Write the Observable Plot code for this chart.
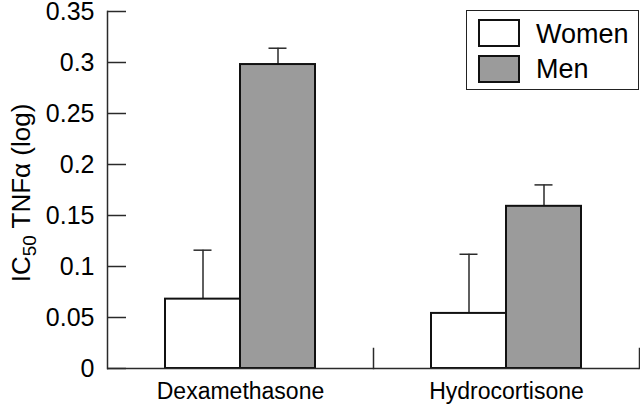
<!DOCTYPE html>
<html><head><meta charset="utf-8">
<script src="https://cdn.jsdelivr.net/npm/d3@7"></script>
<script src="https://cdn.jsdelivr.net/npm/@observablehq/plot@0.6"></script>
<style>
html,body{margin:0;padding:0;background:#fff;}
#chart{position:relative;width:640px;height:404px;font-family:"Liberation Sans",Arial,sans-serif;}
#legend{position:absolute;left:466px;top:10px;width:173px;height:80px;border:1.5px solid #222;box-sizing:border-box;background:#fff;}
.sw{position:absolute;left:11px;width:42px;height:28px;border:2px solid #111;box-sizing:border-box;}
.lt{position:absolute;left:69px;font-size:27px;line-height:27px;color:#000;white-space:nowrap;}
</style></head><body><div id="chart"></div>
<script>
const drugs = ["Dexamethasone", "Hydrocortisone"];
const sexes = ["Women", "Men"];
const womenMean = [0.068, 0.054];
const womenSD = [0.048, 0.058];
const menMean = [0.298, 0.159];
const menSD = [0.016, 0.021];
const yTicks = [0, 0.05, 0.1, 0.15, 0.2, 0.25, 0.3, 0.35];
const fills = ["#ffffff", "#9b9b9b"];
const labelMain = "IC", labelSub = "50", labelRest = " TNFα (log)";
const labelFull = labelMain + labelSub + labelRest;

const rows = [];
drugs.forEach((d, i) => {
  rows.push({drug: d, sex: sexes[0], mean: womenMean[i], sd: womenSD[i]});
  rows.push({drug: d, sex: sexes[1], mean: menMean[i], sd: menSD[i]});
});

const ink = "#2a2a2a";
const plot = Plot.plot({
  width: 640, height: 404,
  marginLeft: 107, marginRight: 1, marginTop: 11, marginBottom: 36,
  style: {fontFamily: '"Liberation Sans", Arial, sans-serif', fontSize: "23px", color: "#000", background: "#fff", overflow: "visible"},
  fx: {domain: drugs, padding: 0, label: null},
  x: {domain: sexes, paddingInner: 0, paddingOuter: 0.7733, axis: null},
  y: {domain: [0, 0.35]},
  color: {domain: sexes, range: fills},
  marks: [
    Plot.frame({anchor: "left", facet: "super", stroke: ink, strokeWidth: 1.5}),
    Plot.frame({anchor: "right", insetTop: 337, stroke: ink, strokeWidth: 1.5}),
    Plot.ruleY(yTicks, {y: d => d, fx: () => drugs[0], insetRight: 247, stroke: ink, strokeWidth: 1.5}),
    Plot.axisY({ticks: yTicks, tickSize: 0, tickPadding: 13, fontSize: 25, tickFormat: d => `${d}`, label: null}),
    Plot.text([labelFull], {fx: () => drugs[0], frameAnchor: "left", rotate: -90, dx: -86, dy: 3,
      fontSize: 26, lineAnchor: "middle", textAnchor: "middle", fill: "#000"}),
    Plot.axisFx({anchor: "bottom", tickSize: 0, tickPadding: 14, label: null}),
    Plot.ruleX(rows, {x: "sex", fx: "drug", y1: "mean", y2: d => d.mean + d.sd, stroke: ink, strokeWidth: 1.5}),
    Plot.tickY(rows, {x: "sex", fx: "drug", y: d => d.mean + d.sd, insetLeft: 28.5, insetRight: 28.5, stroke: ink, strokeWidth: 1.5}),
    Plot.barY(rows, {x: "sex", fx: "drug", y: "mean", fill: "sex", stroke: "#111", strokeWidth: 2}),
    Plot.ruleY([0], {stroke: ink, strokeWidth: 1.5})
  ]
});

d3.select(plot).selectAll("text").filter(function() { return this.textContent === labelFull; }).each(function() {
  const lab = d3.select(this);
  lab.text(null);
  lab.append("tspan").text(labelMain);
  lab.append("tspan").attr("font-size", "19px").attr("dy", "6").text(labelSub);
  lab.append("tspan").attr("dy", "-6").text(labelRest);
});

const chart = document.getElementById("chart");
chart.appendChild(plot);
const legend = document.createElement("div");
legend.id = "legend";
sexes.forEach((s, i) => {
  const sw = document.createElement("div");
  sw.className = "sw";
  sw.style.top = (8 + 36 * i) + "px";
  sw.style.background = fills[i];
  legend.appendChild(sw);
  const t = document.createElement("div");
  t.className = "lt";
  t.style.top = (10 + 35 * i) + "px";
  t.textContent = s;
  legend.appendChild(t);
});
chart.appendChild(legend);
</script></body></html>
